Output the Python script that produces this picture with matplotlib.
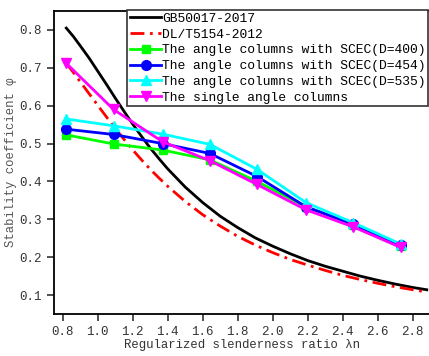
import matplotlib
matplotlib.use("Agg")
import matplotlib.pyplot as plt

# design curves
x_curve = [0.82, 0.86, 0.9, 0.95, 1.0, 1.05, 1.1, 1.15, 1.2, 1.25, 1.3, 1.35, 1.4, 1.5,
           1.6, 1.7, 1.8, 1.9, 2.0, 2.1, 2.2, 2.3, 2.4, 2.5, 2.6, 2.7, 2.8, 2.88]
gb50017 = [0.805, 0.783, 0.758, 0.726, 0.691, 0.656, 0.620, 0.585, 0.551, 0.519,
           0.488, 0.460, 0.433, 0.385, 0.344, 0.308, 0.278, 0.251, 0.229, 0.209,
           0.191, 0.176, 0.163, 0.150, 0.139, 0.129, 0.120, 0.114]
dlt5154 = [0.712, 0.688, 0.663, 0.632, 0.601, 0.570, 0.540, 0.511, 0.483, 0.457,
           0.432, 0.409, 0.387, 0.347, 0.312, 0.282, 0.255, 0.232, 0.212, 0.194,
           0.179, 0.165, 0.152, 0.141, 0.131, 0.122, 0.114, 0.108]

# test points
x_test = [0.82, 1.09, 1.37, 1.64, 1.91, 2.19, 2.46, 2.73]
scec_400 = [0.523, 0.499, 0.483, 0.457, 0.400, 0.333, 0.285, 0.230]
scec_454 = [0.538, 0.524, 0.500, 0.474, 0.413, 0.333, 0.287, 0.232]
scec_535 = [0.565, 0.547, 0.525, 0.498, 0.432, 0.344, 0.291, 0.235]
single = [0.712, 0.590, 0.505, 0.455, 0.392, 0.325, 0.280, 0.226]

labels = ["GB50017-2017", "DL/T5154-2012",
          "The angle columns with SCEC(D=400)",
          "The angle columns with SCEC(D=454)",
          "The angle columns with SCEC(D=535)",
          "The single angle columns"]

plt.rcParams['font.family'] = ['Liberation Mono', 'DejaVu Sans']

fig = plt.figure(figsize=(4.29, 3.56), dpi=100)
ax = fig.add_axes([0.126, 0.118, 0.877, 0.851])

ax.plot(x_curve, gb50017, color='black', lw=2, label=labels[0])
ax.plot(x_curve, dlt5154, color='red', lw=2, dashes=(5, 2, 1, 2), label=labels[1])
ax.plot(x_test, scec_400, color='#00ff00', lw=2, marker='s', ms=6, label=labels[2])
ax.plot(x_test, scec_454, color='blue', lw=2, marker='o', ms=7, label=labels[3])
ax.plot(x_test, scec_535, color='cyan', lw=2, marker='^', ms=7, label=labels[4])
ax.plot(x_test, single, color='magenta', lw=2, marker='v', ms=7, label=labels[5])

ax.set_xlim(0.75, 2.9)
ax.set_ylim(0.05, 0.85)
ax.set_xticks([0.8, 1.0, 1.2, 1.4, 1.6, 1.8, 2.0, 2.2, 2.4, 2.6, 2.8])
ax.set_yticks([0.1, 0.2, 0.3, 0.4, 0.5, 0.6, 0.7, 0.8])
ax.tick_params(direction='out', length=5, width=1.2, labelsize=9, colors='#333333')
for s in ax.spines.values():
    s.set_linewidth(1.3)

ax.set_xlabel("Regularized slenderness ratio λn", fontsize=8.8, color='#333333', labelpad=1)
ax.set_ylabel("Stability coefficient φ", fontsize=8.8, color='#555555', labelpad=2)

leg = ax.legend(loc='upper right', bbox_to_anchor=(428 / 429, 1 - 10 / 356),
                bbox_transform=fig.transFigure, fontsize=9.4, fancybox=False,
                framealpha=1, edgecolor='#333333', borderaxespad=0, borderpad=0.2,
                labelspacing=0.28, handlelength=2.4, handletextpad=0.05)
leg.get_frame().set_linewidth(1.2)

fig.savefig("out.png", dpi=100)
